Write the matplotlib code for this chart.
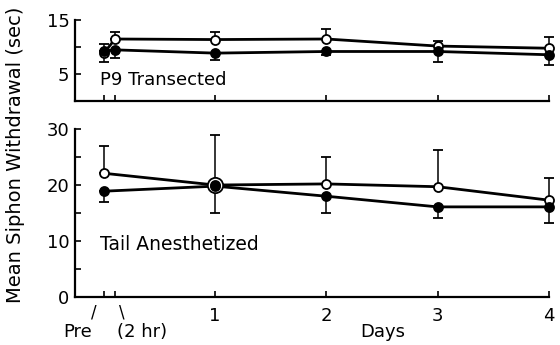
import matplotlib
matplotlib.use("Agg")
import matplotlib.pyplot as plt
import numpy as np

plt.rcParams['font.family'] = ['DejaVu Sans']

# P9 transected (top panel): Pre, 2 hr, days 1-4
top_x = [0, 0.1, 1, 2, 3, 4]
top_open = [8.9, 11.5, 11.4, 11.5, 10.2, 9.8]
top_open_lo = [1.7, 0, 0, 0, 0, 0]
top_open_hi = [1.7, 1.2, 1.4, 1.8, 1.0, 2.0]
top_filled = [9.3, 9.5, 8.9, 9.2, 9.2, 8.6]
top_filled_lo = [0, 1.5, 1.2, 0.6, 2.0, 1.9]
top_filled_hi = [0, 0, 0, 0, 0, 0]

# Tail anesthetized (bottom panel): Pre, days 1-4
bot_x = [0, 1, 2, 3, 4]
bot_open = [22.1, 20.0, 20.2, 19.7, 17.3]
bot_open_lo = [0, 0, 0, 0, 0]
bot_open_hi = [4.8, 9.0, 4.8, 6.5, 3.9]
bot_filled = [18.9, 19.8, 18.0, 16.1, 16.1]
bot_filled_lo = [2.0, 4.8, 3.0, 1.9, 2.8]
bot_filled_hi = [0, 0, 0, 0, 0]

day_ticks = [0, 0.1, 1, 2, 3, 4]
day_labels = ['', '', '1', '2', '3', '4']

fig = plt.figure(figsize=(5.6, 3.45), dpi=100)
ax_top = fig.add_axes([0.134, 0.706, 0.846, 0.236])
ax_bot = fig.add_axes([0.134, 0.139, 0.846, 0.487])


def draw_series(ax, x, y, lo, hi, filled):
    ax.errorbar(x, y, yerr=[lo, hi], fmt='none', ecolor='black',
                elinewidth=1.1, capsize=3.5, capthick=1.3, clip_on=False, zorder=2)
    ax.plot(x, y, color='black', lw=2.0, clip_on=False, zorder=3)
    ax.plot(x, y, 'o', ms=6.5, mec='black', mew=1.3,
            mfc='black' if filled else 'white', clip_on=False, zorder=4)


draw_series(ax_top, top_x, top_open, top_open_lo, top_open_hi, False)
draw_series(ax_top, top_x, top_filled, top_filled_lo, top_filled_hi, True)

draw_series(ax_bot, bot_x, bot_open, bot_open_lo, bot_open_hi, False)
# bigger ring where the two groups overlap
bo = np.array(bot_open)
bf = np.array(bot_filled)
same = np.abs(bo - bf) < 0.5
ax_bot.plot(np.array(bot_x)[same], bo[same], 'o', ms=11, mfc='white', mec='black',
            mew=1.3, zorder=3.5)
draw_series(ax_bot, bot_x, bot_filled, bot_filled_lo, bot_filled_hi, True)

for ax in (ax_top, ax_bot):
    ax.set_xlim(-0.26, 4)
    ax.spines['top'].set_visible(False)
    ax.spines['right'].set_visible(False)
    ax.spines['left'].set_linewidth(1.6)
    ax.spines['bottom'].set_linewidth(1.6)
    ax.set_xticks(day_ticks)
    ax.tick_params(direction='in', length=4, width=1.2, labelsize=13, pad=4)

ax_top.set_ylim(0, 15)
ax_top.set_yticks([5, 10, 15])
ax_top.set_yticklabels(['5', '', '15'])
ax_top.set_xticklabels([])
ax_top.text(-0.04, 4.0, 'P9 Transected', fontsize=13, va='center', ha='left')

ax_bot.set_ylim(0, 30)
ax_bot.set_yticks([0, 10, 20, 30])
ax_bot.set_yticks([5, 15, 25], minor=True)
ax_bot.tick_params(which='minor', direction='in', length=4, width=1.2)
ax_bot.tick_params(axis='x', pad=7)
ax_bot.set_xticklabels(day_labels)
ax_bot.text(-0.04, 9.3, 'Tail Anesthetized', fontsize=13.5, va='center', ha='left')

# Pre / (2 hr) labels under the axis
xt = ax_bot.get_xaxis_transform()
ax_bot.text(-0.09, -0.09, '/', transform=xt, fontsize=12, ha='center', va='center')
ax_bot.text(0.16, -0.09, '\\', transform=xt, fontsize=12, ha='center', va='center')
ax_bot.text(-0.24, -0.21, 'Pre', transform=xt, fontsize=13, ha='center', va='center')
ax_bot.text(0.34, -0.21, '(2 hr)', transform=xt, fontsize=13, ha='center', va='center')
ax_bot.text(2.51, -0.21, 'Days', transform=xt, fontsize=13, ha='center', va='center')

fig.text(0.027, 0.55, 'Mean Siphon Withdrawal (sec)', rotation=90, fontsize=14,
         ha='center', va='center')

fig.savefig('out.png', dpi=100)
